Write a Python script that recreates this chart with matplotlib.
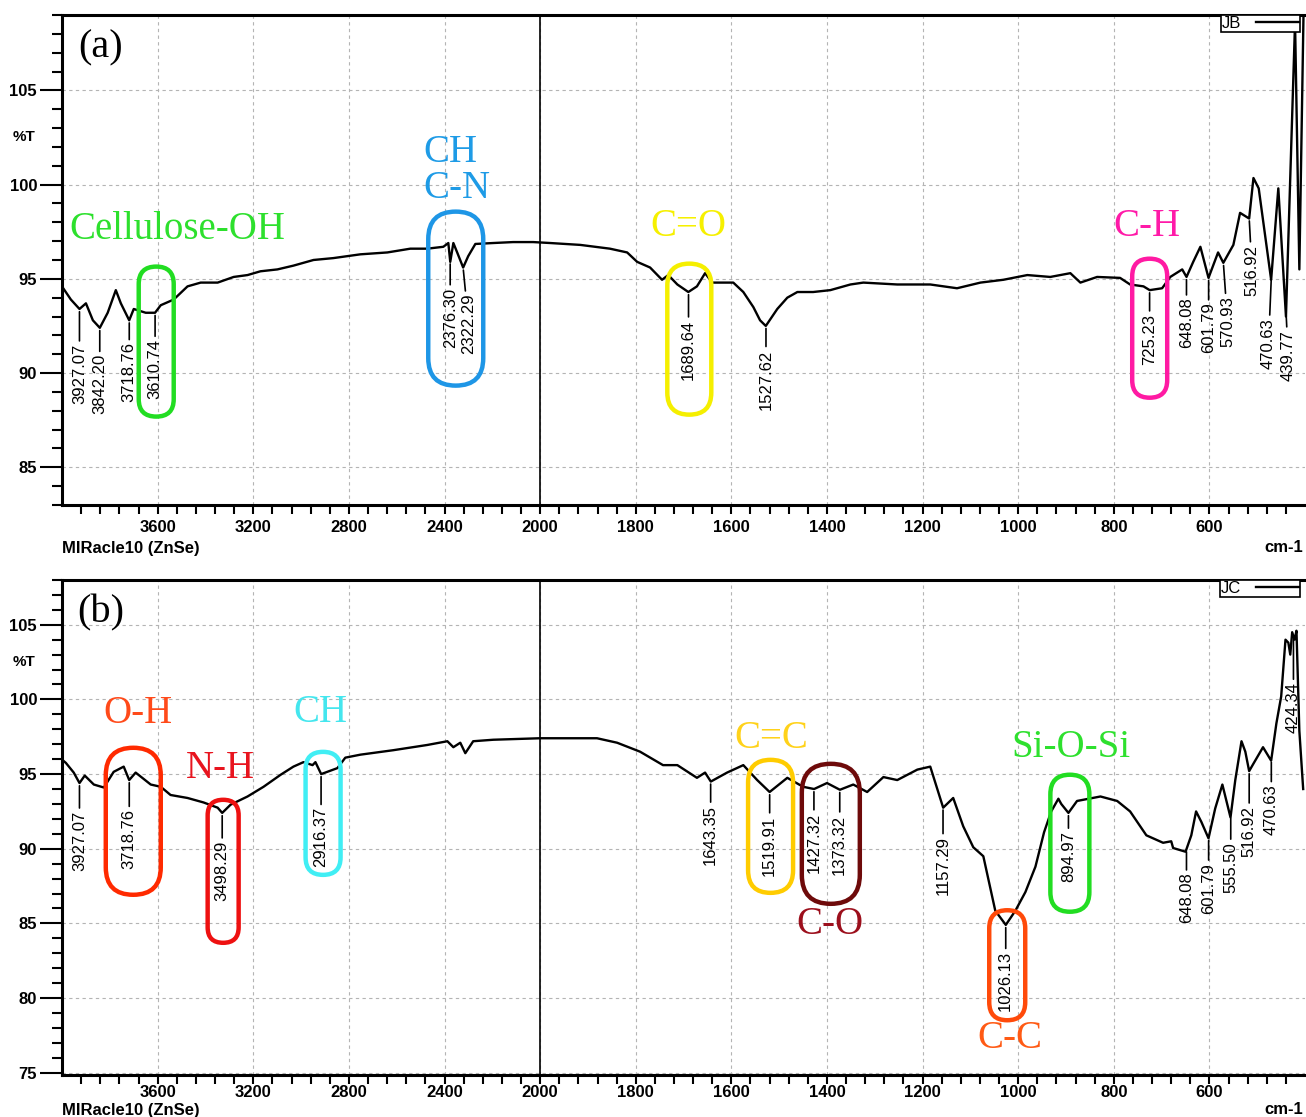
import numpy as np
import matplotlib
matplotlib.use("Agg")
import matplotlib.pyplot as plt
from matplotlib import font_manager
from matplotlib.patches import FancyBboxPatch
from matplotlib.transforms import ScaledTranslation
from matplotlib.ticker import FixedLocator, MultipleLocator, FormatStrFormatter

# spectrum JB (top panel), wavenumber cm-1 / %T
wn_jb = [3995, 3963, 3927, 3900, 3871, 3842, 3809, 3775, 3754, 3719,
         3700, 3650, 3611, 3587, 3533, 3475, 3420, 3349, 3282, 3224,
         3170, 3099, 3032, 2948, 2865, 2752, 2639, 2543, 2472, 2405,
         2384, 2376, 2363, 2347, 2322, 2301, 2271, 2196, 2113, 2029,
         1979, 1916, 1854, 1818, 1797, 1770, 1745, 1732, 1713, 1690,
         1672, 1655, 1640, 1596, 1575, 1554, 1540, 1528, 1504, 1483,
         1462, 1429, 1393, 1351, 1324, 1253, 1184, 1128, 1079, 1031,
         981, 933, 891, 870, 835, 787, 766, 738, 725, 699,
         682, 657, 648, 634, 619, 602, 582, 571, 550, 536,
         517, 508, 497, 471, 456, 440, 421, 412, 403]
t_jb = [94.5, 93.9, 93.4, 93.7, 92.8, 92.4, 93.2, 94.4, 93.7, 92.8,
        93.4, 93.2, 93.2, 93.6, 93.9, 94.6, 94.8, 94.8, 95.1, 95.2,
        95.4, 95.5, 95.7, 96.0, 96.1, 96.3, 96.4, 96.6, 96.6, 96.7,
        96.9, 95.9, 96.9, 96.4, 95.6, 96.2, 96.85, 96.9, 96.95, 96.95,
        96.9, 96.8, 96.6, 96.4, 95.9, 95.6, 94.95, 95.2, 94.7, 94.3,
        94.6, 95.3, 94.8, 94.8, 94.3, 93.5, 92.8, 92.5, 93.4, 94.0,
        94.3, 94.3, 94.4, 94.7, 94.8, 94.7, 94.7, 94.5, 94.8, 94.95,
        95.2, 95.1, 95.3, 94.8, 95.1, 95.05, 94.7, 94.6, 94.4, 94.5,
        95.1, 95.5, 95.1, 95.9, 96.7, 95.05, 96.4, 95.85, 96.8, 98.5,
        98.2, 100.35, 99.8, 94.95, 99.8, 93.0, 108.6, 95.5, 109.5]

# spectrum JC (bottom panel)
wn_jc = [3995, 3984, 3951, 3927, 3905, 3867, 3825, 3784, 3742, 3719,
         3692, 3629, 3587, 3546, 3475, 3408, 3349, 3330, 3295, 3224,
         3157, 3086, 3032, 2990, 2952, 2940, 2916, 2848, 2815, 2752,
         2614, 2472, 2388, 2363, 2334, 2313, 2280, 2196, 2000, 1881,
         1839, 1791, 1743, 1713, 1672, 1655, 1643, 1609, 1575, 1546,
         1520, 1483, 1450, 1427, 1400, 1373, 1345, 1316, 1282, 1253,
         1211, 1184, 1157, 1136, 1115, 1094, 1073, 1048, 1026, 1006,
         985, 964, 946, 931, 916, 910, 895, 877, 828, 793,
         766, 732, 697, 680, 676, 650, 638, 628, 617, 602,
         588, 573, 556, 546, 533, 525, 517, 508, 488, 471,
         460, 450, 441, 435, 431, 427, 422, 418, 412, 404]
t_jc = [95.9, 95.75, 95.1, 94.4, 94.9, 94.3, 94.1, 95.15, 95.5, 94.6,
        95.1, 94.3, 94.15, 93.6, 93.4, 93.1, 92.75, 92.4, 92.95, 93.5,
        94.15, 94.95, 95.5, 95.8, 95.6, 95.8, 95.0, 95.4, 96.1, 96.3,
        96.6, 96.95, 97.2, 96.8, 97.1, 96.4, 97.2, 97.3, 97.4, 97.4,
        97.1, 96.5, 95.6, 95.6, 94.75, 95.1, 94.5, 95.1, 95.6, 94.6,
        93.8, 94.75, 94.15, 94.0, 94.4, 93.95, 94.3, 93.8, 94.8, 94.6,
        95.3, 95.5, 92.75, 93.4, 91.5, 90.1, 89.5, 85.85, 84.9, 85.85,
        87.1, 88.8, 91.1, 92.5, 93.35, 93.0, 92.4, 93.2, 93.5, 93.2,
        92.5, 90.9, 90.4, 90.5, 90.05, 89.8, 90.9, 92.5, 91.8, 90.7,
        92.7, 94.3, 92.1, 94.6, 97.2, 96.5, 95.2, 95.7, 96.8, 95.9,
        98.4, 100.2, 104.0, 103.8, 103.0, 104.5, 104.0, 104.6, 97.9, 94.0]

# peak picks: where they sit and what they say
peaks_jb = [3927.07, 3842.20, 3718.76, 3610.74, 2376.30, 2322.29, 1689.64, 1527.62,
            725.23, 648.08, 601.79, 570.93, 516.92, 470.63, 439.77]
labels_jb = ["3927.07", "3842.20", "3718.76", "3610.74", "2376.30", "2322.29", "1689.64",
             "1527.62", "725.23", "648.08", "601.79", "570.93", "516.92", "470.63", "439.77"]
peaks_jc = [3927.07, 3718.76, 3330.0, 2916.37, 1643.35, 1519.91, 1427.32, 1373.32, 1157.29,
            1026.13, 894.97, 648.08, 601.79, 555.50, 516.92, 470.63, 424.34]
labels_jc = ["3927.07", "3718.76", "3498.29", "2916.37", "1643.35", "1519.91", "1427.32",
             "1373.32", "1157.29", "1026.13", "894.97", "648.08", "601.79", "555.50",
             "516.92", "470.63", "424.34"]

# functional group names
groups_jb = ["Cellulose-OH", "CH", "C-N", "C=O", "C-H"]
groups_jc = ["O-H", "N-H", "CH", "C=C", "C-O", "C-C", "Si-O-Si"]

x_major = [3600, 3200, 2800, 2400, 2000, 1800, 1600, 1400, 1200, 1000, 800, 600]
x_minor = list(range(3920, 2000, -80)) + list(range(1960, 400, -40))

# ---- layout / styling ----
plt.rcParams["font.family"] = "Liberation Sans"
plt.rcParams["font.size"] = 12

names = {f.name for f in font_manager.fontManager.ttflist}
if "Liberation Sans Narrow" in names:
    pk_font, pk_size = "Liberation Sans Narrow", 13.5
else:
    pk_font, pk_size = "Liberation Sans", 12

# label gap below the peak (pt) and sideways nudge (pt)
gap_jb = [25, 19, 16, 19, 19, 19, 20, 17, 17, 15, 18, 24, 19, 29, 12]
dx_jb = [0, 0, 0, 0, 0, 4, 0, 0, 0, 0, 0, 3, 2, -2, 1.5]
gap_jc = [20, 21, 20, 24, 17, 17, 17, 18, 21, 19, 13, 17, 18, 19, 25, 18, 33]
dx_jc = [0] * len(peaks_jc)

grp_pos_jb = [(3516, 97.6), (2376, 101.7), (2347, 99.8), (1690, 97.75), (730, 97.75)]
grp_col_jb = ["#2de02d", "#1e9be6", "#1e9be6", "#f6f000", "#ff1aa8"]
grp_pos_jc = [(3683, 99.04), (3337, 95.4), (2919, 99.1), (1517, 97.4), (1393, 84.9),
              (1017, 77.3), (889, 96.8)]
grp_col_jc = ["#ff4a1a", "#e8141e", "#44e6ee", "#ffd21a", "#9c0f1c", "#ff5a14", "#2ee02e"]

# rings: centre (cm-1, %T), size in px, colour
rings_jb = [(3606, 91.67, 35, 150, "#22dd22"), (2353, 93.95, 55, 174, "#1e96e6"),
            (1688, 91.8, 44, 151, "#f5ef00"), (725, 92.38, 35, 139, "#ff1aa3")]
rings_jc = [(3702, 91.84, 55, 147, "#ff2a00"), (3326, 88.49, 31, 143, "#ee1111"),
            (2908, 92.37, 35, 123, "#40eef4"), (1518, 91.5, 45, 133, "#ffcc00"),
            (1392, 91.0, 58, 140, "#6e0a0a"), (1023, 82.2, 36, 110, "#ff4a0a"),
            (892, 90.37, 39, 137, "#22dd22")]


def fwd(w):
    # 4000-2000 compressed 2x, 2000-400 normal
    w = np.asarray(w, dtype=float)
    return np.where(w >= 2000, w / 2 + 1000, w)


def inv(p):
    p = np.asarray(p, dtype=float)
    return np.where(p >= 2000, (p - 1000) * 2, p)


fig = plt.figure(figsize=(13.06, 11.17), dpi=100)
ax_a = fig.add_axes([0.0475, 0.5479, 0.9518, 0.4387])
ax_b = fig.add_axes([0.0475, 0.0376, 0.9518, 0.4432])


def ring(ax, w, t, wpx, hpx, color):
    wi, hi = wpx / 100, hpx / 100
    tr = fig.dpi_scale_trans + ScaledTranslation(w, t, ax.transData)
    ax.add_patch(FancyBboxPatch((-wi / 2, -hi / 2), wi, hi,
                                boxstyle=f"round,pad=0,rounding_size={wi / 2}",
                                transform=tr, fill=False, ec=color, lw=3.2, zorder=4))


def draw_panel(ax, wn, t, name, ylim, tag, xpad, peaks, labels, gaps, dxs,
               groups, gpos, gcol, rings):
    wn = np.asarray(wn, float)
    t = np.asarray(t, float)
    ax.set_xscale("function", functions=(fwd, inv))
    ax.plot(wn, t, color="k", lw=1.7, label=name, zorder=3)
    ax.set_xlim(4000, 400)
    ax.set_ylim(*ylim)

    ax.xaxis.set_major_locator(FixedLocator(x_major))
    ax.xaxis.set_minor_locator(FixedLocator(x_minor))
    ax.xaxis.set_major_formatter(FormatStrFormatter("%d"))
    ax.yaxis.set_major_locator(MultipleLocator(5))
    ax.yaxis.set_minor_locator(MultipleLocator(1))
    ax.tick_params(axis="x", which="both", direction="out", length=6.5, width=1.5, pad=xpad)
    ax.tick_params(axis="y", which="major", direction="out", length=16, width=1.5, pad=2)
    ax.tick_params(axis="y", which="minor", direction="out", length=7, width=1.5)
    for lab in ax.get_xticklabels() + ax.get_yticklabels():
        lab.set_fontweight("bold")
    ax.grid(which="major", color="#b4b4b4", lw=0.8, ls=(0, (3, 3)))
    ax.axvline(2000, color="k", lw=1.2, zorder=2)

    for side in ["left", "bottom", "top"]:
        ax.spines[side].set_linewidth(2.2)
    ax.spines["right"].set_visible(False)

    # peak picks
    for p, lab, g, dx in zip(peaks, labels, gaps, dxs):
        y = np.interp(p, wn[::-1], t[::-1])
        ax.annotate(lab, xy=(p, y), xytext=(dx, -g), textcoords="offset points",
                    rotation=90, ha="center", va="top", fontsize=pk_size, family=pk_font,
                    arrowprops=dict(arrowstyle="-", color="k", lw=1.2, shrinkA=0, shrinkB=2),
                    zorder=5)

    for txt, (gx, gy), c in zip(groups, gpos, gcol):
        ax.text(gx, gy, txt, color=c, fontsize=28, family="Liberation Serif",
                ha="center", va="center", zorder=6)

    for w, tt, wpx, hpx, c in rings:
        ring(ax, w, tt, wpx, hpx, c)

    ax.text(0.031, 0.933, tag, transform=ax.transAxes, fontsize=29,
            family="Liberation Serif", ha="center", va="center")
    ax.text(-0.04, 102.5, "%T", transform=ax.get_yaxis_transform(),
            ha="left", va="center", fontsize=11, fontweight="bold")

    leg = ax.legend(loc="upper right", bbox_to_anchor=(0.996, 1.0), borderaxespad=0,
                    markerfirst=False, fancybox=False, edgecolor="k", framealpha=1,
                    fontsize=12, handlelength=2.6, borderpad=0.05, handletextpad=0.9)
    leg.get_frame().set_linewidth(1.2)


draw_panel(ax_a, wn_jb, t_jb, "JB", (83, 109), "(a)", 4, peaks_jb, labels_jb, gap_jb, dx_jb,
           groups_jb, grp_pos_jb, grp_col_jb, rings_jb)
draw_panel(ax_b, wn_jc, t_jc, "JC", (74.85, 108), "(b)", 0.5, peaks_jc, labels_jc, gap_jc, dx_jc,
           groups_jc, grp_pos_jc, grp_col_jc, rings_jc)

# instrument footer + unit
for yy in [1 - 548 / 1117, 1 - 1110 / 1117]:
    fig.text(62 / 1306, yy, "MIRacle10 (ZnSe)", ha="left", va="center", fontsize=12,
             fontweight="bold")
    fig.text(1303 / 1306, yy, "cm-1", ha="right", va="center", fontsize=12, fontweight="bold")

fig.savefig("out.png", dpi=100)
